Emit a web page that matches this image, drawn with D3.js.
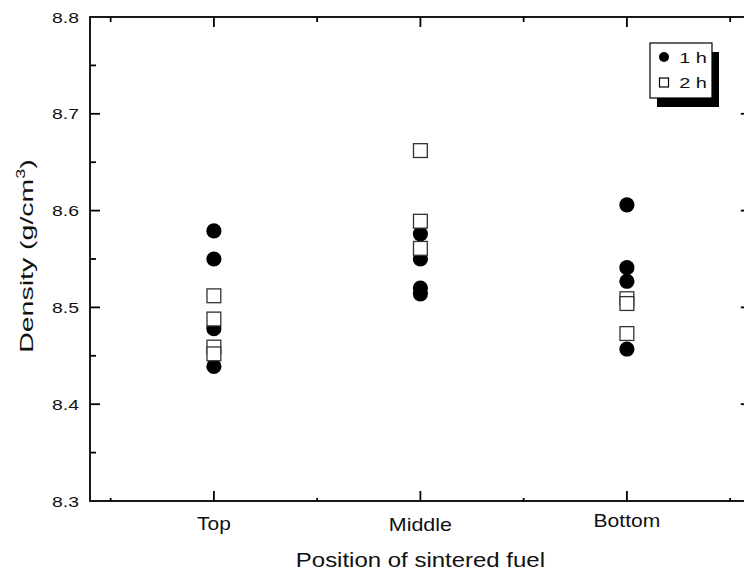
<!DOCTYPE html>
<html>
<head>
<meta charset="utf-8">
<script src="https://cdn.jsdelivr.net/npm/d3@7"></script>
<style>
  html, body { margin: 0; padding: 0; background: #fff; overflow: hidden; }
  svg { display: block; font-family: Arial, "Liberation Sans", sans-serif; }
</style>
</head>
<body>
<svg id="chart" width="744" height="579"></svg>
<script>
// Sintered fuel density by pellet position, for two sintering times
const positions = ["Top", "Middle", "Bottom"];
const positionIndex = [1, 2, 3];
const density1h = [
  [8.579, 8.550, 8.478, 8.439],
  [8.576, 8.550, 8.520, 8.514],
  [8.606, 8.541, 8.527, 8.457]
];
const density2h = [
  [8.512, 8.488, 8.459, 8.452],
  [8.662, 8.589, 8.561],
  [8.509, 8.504, 8.473]
];
const yTicks = [8.3, 8.4, 8.5, 8.6, 8.7, 8.8];
const yMinor = [8.35, 8.45, 8.55, 8.65, 8.75];
const xMinor = [0.5, 1.5, 2.5, 3.5];
const seriesNames = ["1 h", "2 h"];

const svg = d3.select("#chart");

const x = d3.scaleLinear().domain([0.4, 3.6]).range([90, 750.8]);
const y = d3.scaleLinear().domain([8.3, 8.8]).range([501, 17]);
const [plotL, plotR] = x.range();
const [plotB, plotT] = y.range();

const g = svg.append("g");

// Text drawn with a horizontal stretch (wide-set lettering)
function wideText(parent, tx, ty, str, size, stretch, anchor) {
  const holder = parent.append("g")
    .attr("transform", `translate(${tx},${ty}) scale(${stretch},1)`);
  return holder.append("text")
    .attr("text-anchor", anchor)
    .attr("font-size", size)
    .attr("fill", "#111")
    .text(str);
}

// Frame
g.append("rect")
  .attr("x", plotL).attr("y", plotT)
  .attr("width", plotR - plotL).attr("height", plotB - plotT)
  .attr("fill", "none").attr("stroke", "#000").attr("stroke-width", 1.8);

// Inward ticks on all four sides
const tickG = g.append("g").attr("stroke", "#000").attr("stroke-width", 1.8);
function ticks(vals, len, side) {
  vals.forEach(v => {
    if (side === "left") tickG.append("line").attr("x1", plotL).attr("x2", plotL + len).attr("y1", y(v)).attr("y2", y(v));
    if (side === "right") tickG.append("line").attr("x1", plotR).attr("x2", plotR - len).attr("y1", y(v)).attr("y2", y(v));
    if (side === "bottom") tickG.append("line").attr("x1", x(v)).attr("x2", x(v)).attr("y1", plotB).attr("y2", plotB - len);
    if (side === "top") tickG.append("line").attr("x1", x(v)).attr("x2", x(v)).attr("y1", plotT).attr("y2", plotT + len);
  });
}
const yMajorInner = yTicks.filter(v => v > 8.3 && v < 8.8);
ticks(yMajorInner, 10, "left"); ticks(yMinor, 6, "left");
ticks(yMajorInner, 10, "right"); ticks(yMinor, 6, "right");
ticks(positionIndex, 10, "bottom"); ticks(xMinor, 3, "bottom");
ticks(positionIndex, 10, "top"); ticks(xMinor, 5, "top");

// Y tick labels
yTicks.forEach(v => {
  wideText(g, plotL - 11, y(v) + 5.6, v.toFixed(1), 15.4, 1.26, "end");
});

// X tick labels
const labelBaseline = [529.5, 530.5, 527];
const labelStretch = [1.13, 1.16, 1.14];
positions.forEach((p, i) => {
  wideText(g, x(positionIndex[i]), labelBaseline[i], p, 18.5, labelStretch[i], "middle");
});

// Axis titles
wideText(g, x(2), 567, "Position of sintered fuel", 19.5, 1.23, "middle");

const yt = g.append("g")
  .attr("transform", "translate(33,256) rotate(-90) scale(1.5,1)")
  .append("text")
  .attr("text-anchor", "middle").attr("font-size", 19).attr("fill", "#111");
yt.append("tspan").text("Density (g/cm");
yt.append("tspan").attr("font-size", 12).attr("dy", -8).text("3");
yt.append("tspan").attr("dy", 8).text(")");

// Data points: filled circles for 1 h, open squares for 2 h on top
const pts1 = density1h.flatMap((arr, i) => arr.map(v => ({ p: positionIndex[i], v })));
const pts2 = density2h.flatMap((arr, i) => arr.map(v => ({ p: positionIndex[i], v })));

g.selectAll("circle.h1").data(pts1).join("circle")
  .attr("class", "h1")
  .attr("cx", d => x(d.p)).attr("cy", d => y(d.v))
  .attr("r", 7.6).attr("fill", "#000");

const sq = 13.8;
g.selectAll("rect.h2").data(pts2).join("rect")
  .attr("class", "h2")
  .attr("x", d => x(d.p) - sq / 2).attr("y", d => y(d.v) - sq / 2)
  .attr("width", sq).attr("height", sq)
  .attr("fill", "#fff").attr("stroke", "#333").attr("stroke-width", 1.3);

// Legend with drop shadow
const lx = 650, ly = 43, lw = 62, lh = 55;
g.append("rect").attr("x", lx + 7).attr("y", ly + 9).attr("width", lw).attr("height", lh).attr("fill", "#000");
g.append("rect").attr("x", lx).attr("y", ly).attr("width", lw).attr("height", lh)
  .attr("fill", "#fff").attr("stroke", "#000").attr("stroke-width", 1.2);
g.append("circle").attr("cx", lx + 14).attr("cy", 57).attr("r", 5).attr("fill", "#000");
g.append("rect").attr("x", lx + 9.5).attr("y", 78).attr("width", 9).attr("height", 9)
  .attr("fill", "#fff").attr("stroke", "#000").attr("stroke-width", 1.2);
const legendBaseline = [62.8, 88.3];
seriesNames.forEach((s, i) => {
  wideText(g, 707, legendBaseline[i], s, 15.4, 1.3, "end");
});
</script>
</body>
</html>
